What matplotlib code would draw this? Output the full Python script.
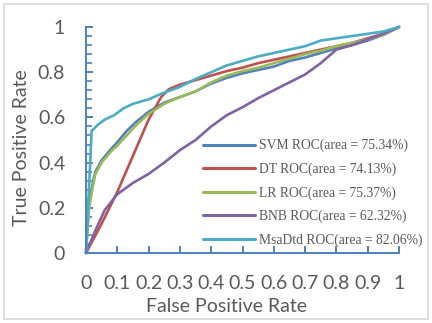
import matplotlib
matplotlib.use("Agg")
import matplotlib.pyplot as plt
from matplotlib.ticker import MultipleLocator
from matplotlib.patches import FancyBboxPatch

# ---- data ----
svm_x = [0, 0.005, 0.01, 0.02, 0.03, 0.05, 0.08, 0.1, 0.13, 0.16, 0.2, 0.25, 0.3, 0.35, 0.4,
         0.45, 0.5, 0.55, 0.6, 0.65, 0.7, 0.75, 0.8, 0.85, 0.9, 0.95, 1]
svm_y = [0, 0.12, 0.22, 0.3, 0.36, 0.41, 0.46, 0.49, 0.54, 0.58, 0.625, 0.665, 0.69, 0.715, 0.75,
         0.775, 0.795, 0.81, 0.825, 0.85, 0.865, 0.885, 0.905, 0.92, 0.94, 0.965, 1]

dt_x = [0, 0.05, 0.1, 0.15, 0.2, 0.24, 0.265, 0.3, 0.35, 0.4, 0.45, 0.5, 0.55, 0.6, 0.65,
        0.7, 0.75, 0.8, 0.85, 0.9, 0.95, 1]
dt_y = [0, 0.13, 0.27, 0.43, 0.59, 0.69, 0.725, 0.745, 0.765, 0.785, 0.805, 0.82, 0.84, 0.855,
        0.87, 0.885, 0.9, 0.915, 0.93, 0.95, 0.97, 1]

lr_x = [0, 0.005, 0.01, 0.02, 0.03, 0.05, 0.08, 0.1, 0.13, 0.16, 0.2, 0.25, 0.3, 0.35, 0.4,
        0.45, 0.5, 0.55, 0.6, 0.65, 0.7, 0.75, 0.8, 0.85, 0.9, 0.95, 1]
lr_y = [0, 0.1, 0.2, 0.28, 0.35, 0.4, 0.45, 0.475, 0.52, 0.565, 0.615, 0.66, 0.69, 0.715, 0.755,
        0.785, 0.805, 0.82, 0.84, 0.86, 0.88, 0.895, 0.915, 0.93, 0.945, 0.965, 1]

bnb_x = [0, 0.03, 0.06, 0.1, 0.15, 0.2, 0.25, 0.3, 0.35, 0.4, 0.45, 0.5, 0.55, 0.6, 0.65,
         0.7, 0.75, 0.8, 0.85, 0.9, 0.95, 1]
bnb_y = [0, 0.1, 0.19, 0.26, 0.31, 0.35, 0.4, 0.455, 0.5, 0.56, 0.61, 0.645, 0.685, 0.72, 0.755,
         0.79, 0.84, 0.9, 0.92, 0.945, 0.97, 1]

msa_x = [0, 0.01, 0.018, 0.04, 0.06, 0.09, 0.12, 0.15, 0.2, 0.25, 0.3, 0.35, 0.4, 0.45, 0.5,
         0.55, 0.6, 0.65, 0.7, 0.75, 0.8, 0.85, 0.9, 0.95, 1]
msa_y = [0, 0.3, 0.54, 0.57, 0.59, 0.61, 0.64, 0.66, 0.68, 0.71, 0.735, 0.77, 0.8, 0.83, 0.85,
         0.87, 0.885, 0.9, 0.915, 0.94, 0.95, 0.96, 0.97, 0.98, 1]

labels = ["SVM ROC(area = 75.34%)", "DT ROC(area = 74.13%)", "LR ROC(area = 75.37%)",
          "BNB ROC(area = 62.32%)", "MsaDtd ROC(area = 82.06%)"]
colors = ["#4F81BD", "#C0504D", "#9BBB59", "#8064A2", "#4BACC6"]

x_ticks = [0, 0.1, 0.2, 0.3, 0.4, 0.5, 0.6, 0.7, 0.8, 0.9, 1]
x_ticklabels = ["0", "0.1", "0.2", "0.3", "0.4", "0.5", "0.6", "0.7", "0.8", "0.9", "1"]
y_ticks = [0, 0.2, 0.4, 0.6, 0.8, 1]
y_ticklabels = ["0", "0.2", "0.4", "0.6", "0.8", "1"]

# ---- figure ----
fig = plt.figure(figsize=(4.32, 3.23), dpi=100)
W, H = 432, 323
ax = fig.add_axes([86 / W, 1 - 253 / H, (399 - 86) / W, (253 - 27) / H])

# outer chart border
border = FancyBboxPatch((4 / W, 4 / H), 424 / W, 315 / H, boxstyle="square,pad=0",
                        transform=fig.transFigure, fill=False, edgecolor="#D9D9D9",
                        linewidth=1.2, zorder=0)
fig.patches.append(border)

series = [(svm_x, svm_y), (dt_x, dt_y), (lr_x, lr_y), (bnb_x, bnb_y), (msa_x, msa_y)]
for (xs, ys), lab, col in zip(series, labels, colors):
    ax.plot(xs, ys, color=col, linewidth=1.9, label=lab, solid_capstyle="round", clip_on=False)

ax.set_xlim(0, 1)
ax.set_ylim(0, 1)
ax.set_xticks(x_ticks)
ax.set_xticklabels(x_ticklabels)
ax.set_yticks(y_ticks)
ax.set_yticklabels(y_ticklabels)
ax.yaxis.set_minor_locator(MultipleLocator(0.04))

spine_col = "#4F81BD"
for s in ["top", "right"]:
    ax.spines[s].set_visible(False)
for s in ["left", "bottom"]:
    ax.spines[s].set_color(spine_col)
    ax.spines[s].set_linewidth(1.4)

tick_font = "Lato"
fs = 14
ax.tick_params(axis="x", which="major", direction="in", length=5, width=1.4, color=spine_col,
               labelsize=fs, labelcolor="#595959", pad=16)
ax.tick_params(axis="y", which="major", direction="in", length=5, width=1.4, color=spine_col,
               labelsize=fs, labelcolor="#595959", pad=15)
ax.tick_params(axis="y", which="minor", direction="in", length=4, width=1.2, color=spine_col)
for lbl in ax.get_xticklabels() + ax.get_yticklabels():
    lbl.set_fontfamily(tick_font)

ax.set_xlabel("False Positive Rate", fontsize=fs, color="#595959", fontfamily=tick_font,
              va="center")
ax.set_ylabel("True Positive Rate", fontsize=fs, color="#595959", fontfamily=tick_font,
              va="center")
ax.xaxis.set_label_coords((227 - 86) / 313, (253 - 306) / 226)
ax.yaxis.set_label_coords((22 - 86) / 313, (253 - 147.5) / 226)

leg = ax.legend(loc="upper left", bbox_to_anchor=(203 / W, 1 - 139 / H),
                bbox_transform=fig.transFigure, frameon=False, handlelength=3.8,
                handletextpad=0.3, labelspacing=0.74, borderpad=0, borderaxespad=0,
                prop={"family": "Liberation Serif", "size": 9.8})
for t in leg.get_texts():
    t.set_color("#595959")
for h in leg.get_lines():
    h.set_linewidth(2.2)

fig.savefig("out.png", dpi=100)
